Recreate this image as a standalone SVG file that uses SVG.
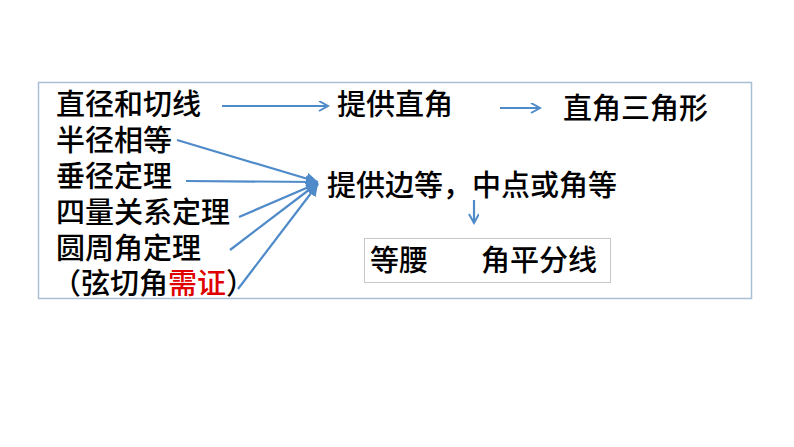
<svg xmlns="http://www.w3.org/2000/svg" width="794" height="447" viewBox="0 0 794 447">
<style>
text{font-family:"Noto Sans CJK SC","Liberation Sans",sans-serif;font-size:29px;font-weight:500;fill:#000}
.c line{stroke:#4f8ac9;stroke-width:2.2}
</style>
<defs>
<marker id="o" markerWidth="12" markerHeight="12" refX="10" refY="5" orient="auto" markerUnits="userSpaceOnUse"><path d="M1,0 L10,5 L1,10" fill="none" stroke="#4f8ac9" stroke-width="2"/></marker>
<marker id="f" markerWidth="14" markerHeight="14" refX="12" refY="6" orient="auto" markerUnits="userSpaceOnUse"><path d="M0,0 L12,6 L0,12 Z" fill="#4f8ac9"/></marker>
</defs>
<rect width="794" height="447" fill="#fff"/>
<rect x="38.5" y="82.5" width="713" height="216" fill="none" stroke="#a9bfd6" stroke-width="1.5"/>
<g id="left">
<text x="56" y="115">直径和切线</text>
<text x="56" y="151">半径相等</text>
<text x="56" y="187">垂径定理</text>
<text x="56" y="223">四量关系定理</text>
<text x="56" y="259">圆周角定理</text>
<text x="52" y="294">（弦切角<tspan fill="#e00000">需证</tspan>）</text>
</g>
<g id="n1"><text x="337" y="115">提供直角</text></g>
<g id="n2"><text x="563" y="119">直角三角形</text></g>
<g id="n3"><text x="327" y="196">提供边等，中点或角等</text></g>
<g id="n4"><rect x="364.5" y="238.5" width="246" height="44" fill="none" stroke="#c8c8c8"/><text x="370" y="271">等腰</text><text x="481" y="271">角平分线</text></g>
<g class="c" id="connectors">
<line x1="222" y1="106" x2="328" y2="106" marker-end="url(#o)"/>
<line x1="500" y1="108" x2="540" y2="108" marker-end="url(#o)"/>
<line x1="177" y1="140" x2="318" y2="182" marker-end="url(#f)"/>
<line x1="186" y1="181" x2="318" y2="182" marker-end="url(#f)"/>
<line x1="239" y1="217" x2="318" y2="183" marker-end="url(#f)"/>
<line x1="230" y1="250" x2="318" y2="183" marker-end="url(#f)"/>
<line x1="238" y1="289" x2="318" y2="184" marker-end="url(#f)"/>
<line x1="474" y1="200" x2="474" y2="223" marker-end="url(#o)"/>
</g>
</svg>
